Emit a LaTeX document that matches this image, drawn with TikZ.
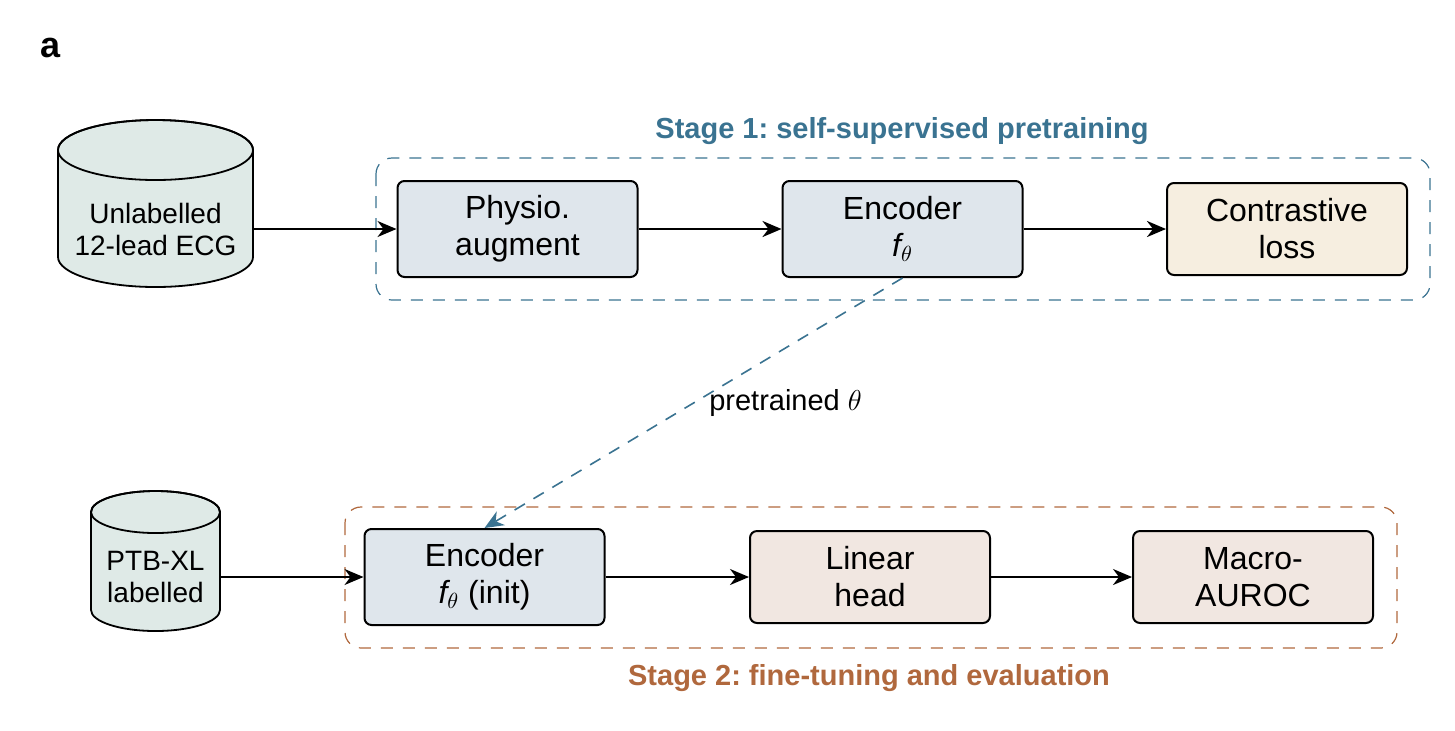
\documentclass[tikz,border=0pt]{standalone}
\usepackage{fontspec}
\setmainfont{Liberation Sans}
\usetikzlibrary{arrows.meta}
\definecolor{stageblue}{HTML}{3A7391}
\definecolor{stagebrown}{HTML}{B0683D}
\definecolor{boxblue}{HTML}{DFE6EC}
\definecolor{boxcream}{HTML}{F6EEE0}
\definecolor{boxrose}{HTML}{F1E7E1}
\definecolor{cylfill}{HTML}{DFEAE7}
\frenchspacing
\begin{document}
\begin{tikzpicture}[x=0.5pt,y=0.5pt,
  proc/.style={draw=black, line width=1pt, rounded corners=3.5pt, minimum width=120pt, minimum height=48pt, align=center, inner sep=0pt, font=\fontsize{16}{18.5}\selectfont},
  cyltext/.style={align=center, inner sep=0pt, font=\fontsize{14}{16}\selectfont},
  cylshape/.style={draw=black, line width=0.9pt, fill=cylfill},
  arr/.style={-{Stealth[length=9.5pt,width=8pt,inset=3pt]}, line width=0.8pt},
  arrthick/.style={arr, line width=1.4pt},
  group/.style={dash pattern=on 6pt off 5pt, line width=0.6pt, rounded corners=8pt},
  title/.style={font=\fontsize{14.5}{17}\selectfont\bfseries, inner sep=0pt}]
\useasboundingbox (0,0) rectangle (1455,-730);

\node[anchor=base west, font=\fontsize{18}{20}\selectfont\bfseries, inner sep=0pt] (lbl) at (40,-57) {a};

% group frames
\draw[group, draw=stageblue] (376,-158) rectangle (1430,-300);
\draw[group, draw=stagebrown] (345,-507) rectangle (1397,-648);
\node[title, text=stageblue, anchor=base] (t1) at (902,-138) {Stage 1: self-supervised pretraining};
\node[title, text=stagebrown, anchor=base] (t2) at (869,-685) {Stage 2: fine-tuning and evaluation};

% cylinder 1
\draw[cylshape] (58,-150) -- (58,-257) arc[start angle=180,end angle=360,x radius=97.5,y radius=30] -- (253,-150) arc[start angle=0,end angle=180,x radius=97.5,y radius=30] -- cycle;
\draw[line width=0.9pt] (155.5,-150) ellipse[x radius=97.5, y radius=30];
\node[cyltext, minimum width=97.5pt] (db1) at (155.5,-229) {Unlabelled\\12-lead ECG};

% cylinder 2
\draw[cylshape] (91,-512) -- (91,-610) arc[start angle=180,end angle=360,x radius=64.5,y radius=21] -- (220,-512) arc[start angle=0,end angle=180,x radius=64.5,y radius=21] -- cycle;
\draw[line width=0.9pt] (155.5,-512) ellipse[x radius=64.5, y radius=21];
\node[cyltext, minimum width=64.5pt] (db2) at (155.5,-577) {PTB-XL\\labelled};

% boxes
\node[proc, fill=boxblue] (aug) at (517.5,-229) {Physio.\\augment};
\node[proc, fill=boxblue] (enc1) at (902.5,-229) {Encoder\\{\itshape f}$_\theta$};
\node[proc, fill=boxcream, minimum height=46pt] (loss) at (1287,-229) {Contrastive\\loss};
\node[proc, fill=boxblue] (enc2) at (484.5,-577) {Encoder\\{\itshape f}$_\theta$ (init)};
\node[proc, fill=boxrose, minimum height=46pt] (head) at (870,-577) {Linear\\head};
\node[proc, fill=boxrose, minimum height=46pt] (auroc) at (1253,-577) {Macro-\\AUROC};

% arrows
\draw[arr] (db1.east) -- (aug.west);
\draw[arrthick] (aug) -- (enc1);
\draw[arrthick] (enc1) -- (loss);
\draw[arr] (db2.east) -- (enc2.west);
\draw[arr, line width=1pt] (enc2) -- (head);
\draw[arr, line width=1pt] (head) -- (auroc);
\draw[arr, draw=stageblue, dash pattern=on 6pt off 5pt] (enc1.south) -- node[pos=0.5, anchor=west, xshift=7.5pt, inner sep=0pt, text=black, font=\fontsize{14.5}{17}\selectfont] (lab) {pretrained $\theta$} (enc2.north);
\end{tikzpicture}
\end{document}
